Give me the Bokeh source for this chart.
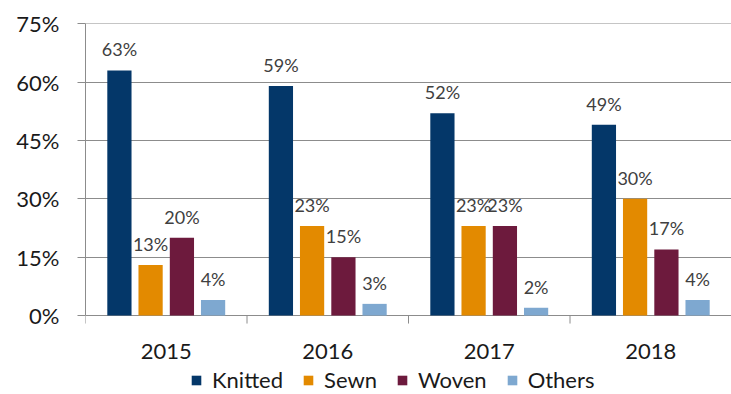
from bokeh.plotting import figure
from bokeh.models import (ColumnDataSource, FixedTicker, PrintfTickFormatter,
                          Legend, LegendItem, Range1d)
from bokeh.transform import dodge
from bokeh.core.properties import value
from bokeh.embed import file_html
from bokeh.resources import INLINE

years = ["2015", "2016", "2017", "2018"]
knitted = [63, 59, 52, 49]
sewn = [13, 23, 23, 30]
woven = [20, 15, 23, 17]
others = [4, 3, 2, 4]
series_names = ["Knitted", "Sewn", "Woven", "Others"]
colors = ["#043769", "#E38A00", "#6D1A3D", "#7EA8D0"]
y_ticks = [0, 15, 30, 45, 60, 75]

FONT = "Lato"
GRID = "#8c8c8c"
series = [knitted, sewn, woven, others]
offsets = [-0.29, -0.097, 0.097, 0.29]

# pixel geometry of the plotting area: 0% at y=315, 75% at y=23, bottom of canvas at 394
PX_PER_UNIT = 292 / 75.0
Y_MIN = -(394 - 315) / PX_PER_UNIT

data = {"xc": [i + 0.5 for i in range(len(years))], "year": years,
        "zero": [0] * len(years)}
for name, vals in zip(series_names, series):
    data[name] = vals
    data[name + "_lbl"] = [f"{v}%" for v in vals]
src = ColumnDataSource(data)

p = figure(width=731, height=394, x_range=Range1d(0, 4), y_range=Range1d(Y_MIN, 75.05),
           output_backend="svg", toolbar_location=None, x_axis_location=None,
           min_border_left=85, min_border_right=0, min_border_top=23, min_border_bottom=0)
p.outline_line_color = None
p.background_fill_color = "white"
p.border_fill_color = "white"

renderers = []
for name, col, off in zip(series_names, colors, offsets):
    r = p.vbar(x=dodge("xc", off), top=name, bottom=0, width=0.15, source=src,
               fill_color=col, line_color=None)
    renderers.append(r)
    p.text(x=dodge("xc", off), y=name, text=name + "_lbl", source=src,
           text_align="center", text_baseline="alphabetic", y_offset=-21,
           text_font=value(FONT), text_font_size="18px", text_color="#404040")

# grid
p.xgrid.visible = False
p.ygrid.ticker = FixedTicker(ticks=y_ticks)
p.ygrid.grid_line_color = GRID
p.ygrid.grid_line_width = 1

# y axis
ya = p.yaxis[0]
ya.ticker = FixedTicker(ticks=y_ticks)
ya.bounds = (0, 75)
ya.formatter = PrintfTickFormatter(format="%d%%")
ya.axis_line_color = GRID
ya.major_tick_line_color = GRID
ya.major_tick_out = 8
ya.major_tick_in = 0
ya.minor_tick_line_color = None
ya.major_label_standoff = 18
ya.major_label_text_font = FONT
ya.major_label_text_font_size = "22px"
ya.major_label_text_color = "#1a1a1a"

# category axis: boundary ticks below the 0% line and year labels
bounds_x = list(range(len(years) + 1))
tick_len = 8 / PX_PER_UNIT
p.segment(x0=bounds_x, y0=[0] * len(bounds_x), x1=bounds_x, y1=[-tick_len] * len(bounds_x),
          line_color=GRID, line_width=1)
p.text(x="xc", y="zero", text="year", source=src, text_align="center",
       text_baseline="middle", y_offset=36, text_font=value(FONT),
       text_font_size="22px", text_color="#1a1a1a")

legend = Legend(items=[LegendItem(label=n, renderers=[r]) for n, r in zip(series_names, renderers)],
                orientation="horizontal", location=(105, 1),
                glyph_width=12, glyph_height=12, label_standoff=10, spacing=19,
                label_text_font=FONT, label_text_font_size="22px", label_text_color="#1a1a1a",
                border_line_color=None, background_fill_alpha=0, padding=0, margin=0)
p.add_layout(legend, "center")

open("out.html", "w").write(file_html(p, INLINE))
